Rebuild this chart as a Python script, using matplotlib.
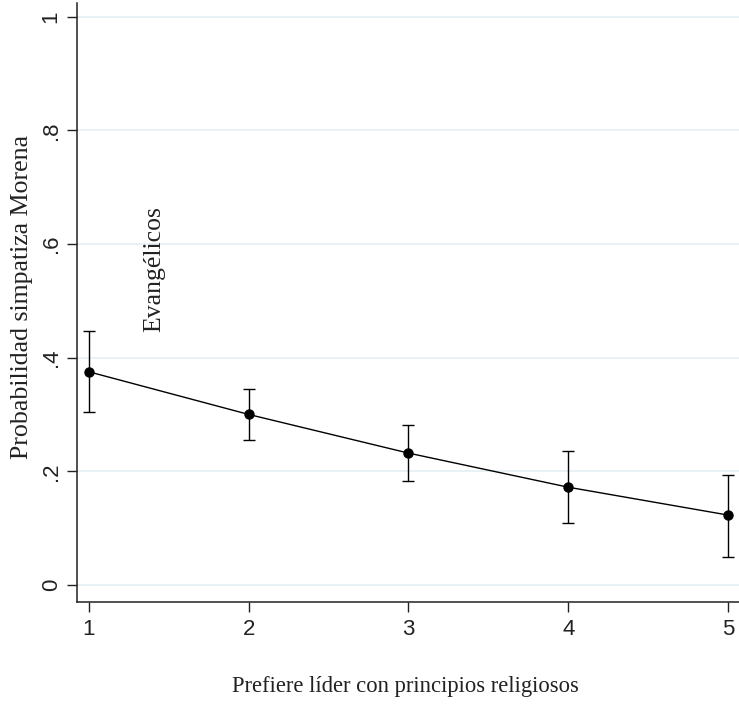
import matplotlib
matplotlib.use("Agg")
import matplotlib.pyplot as plt
import numpy as np

# ── Data ──────────────────────────────────────────────────────
x_vals = [1, 2, 3, 4, 5]
prob = [0.375, 0.300, 0.232, 0.172, 0.123]
ci_low = [0.304, 0.255, 0.183, 0.109, 0.050]
ci_high = [0.446, 0.345, 0.281, 0.236, 0.193]
y_ticks = [0, 0.2, 0.4, 0.6, 0.8, 1.0]
y_ticklabels = ['0', '.2', '.4', '.6', '.8', '1']

fig = plt.figure(figsize=(7.39, 7.06), dpi=100, facecolor='white')
ax = fig.add_axes([0.1042, 0.1473, 0.8958, 0.8485])

prob = np.array(prob)
yerr = np.vstack([prob - np.array(ci_low), np.array(ci_high) - prob])
ax.errorbar(x_vals, prob, yerr=yerr, fmt='o', color='black', ms=6.5,
            elinewidth=1.0, capsize=4, capthick=1.0, zorder=3)
ax.plot(x_vals, prob, color='black', lw=1.0, zorder=2)

# Grid lines
for yv in y_ticks:
    ax.axhline(yv, color='#e4eff1', lw=1.2, zorder=0)

ax.set_xlim(0.925, 5.069)
ax.set_ylim(-0.030, 1.024)
ax.set_xticks(x_vals)
ax.set_xticklabels([str(v) for v in x_vals], fontfamily='Liberation Sans',
                   fontsize=16, color='#222222')
ax.set_yticks(y_ticks)
ax.set_yticklabels(y_ticklabels, fontfamily='Liberation Sans', fontsize=16,
                   color='#222222', rotation=90, va='center')
ax.tick_params(axis='both', direction='out', length=7, width=1.0, colors='#222222')
ax.tick_params(axis='x', pad=5)
ax.tick_params(axis='y', pad=4)

for side in ['top', 'right']:
    ax.spines[side].set_visible(False)
for side in ['left', 'bottom']:
    ax.spines[side].set_linewidth(1.1)
    ax.spines[side].set_color('#222222')

ax.text(1.41, 0.556, 'Evangélicos', rotation=90, ha='center', va='center',
        fontfamily='Liberation Serif', fontsize=18.5, color='#222222')

fig.text(0.548, 0.027, 'Prefiere líder con principios religiosos',
         ha='center', va='center', fontfamily='Liberation Serif',
         fontsize=16.3, color='#222222')
fig.text(0.030, 0.58, 'Probabilidad simpatiza Morena', rotation=90,
         ha='center', va='center', fontfamily='Liberation Serif',
         fontsize=18.6, color='#222222')

fig.savefig('out.png', dpi=100, facecolor='white')
